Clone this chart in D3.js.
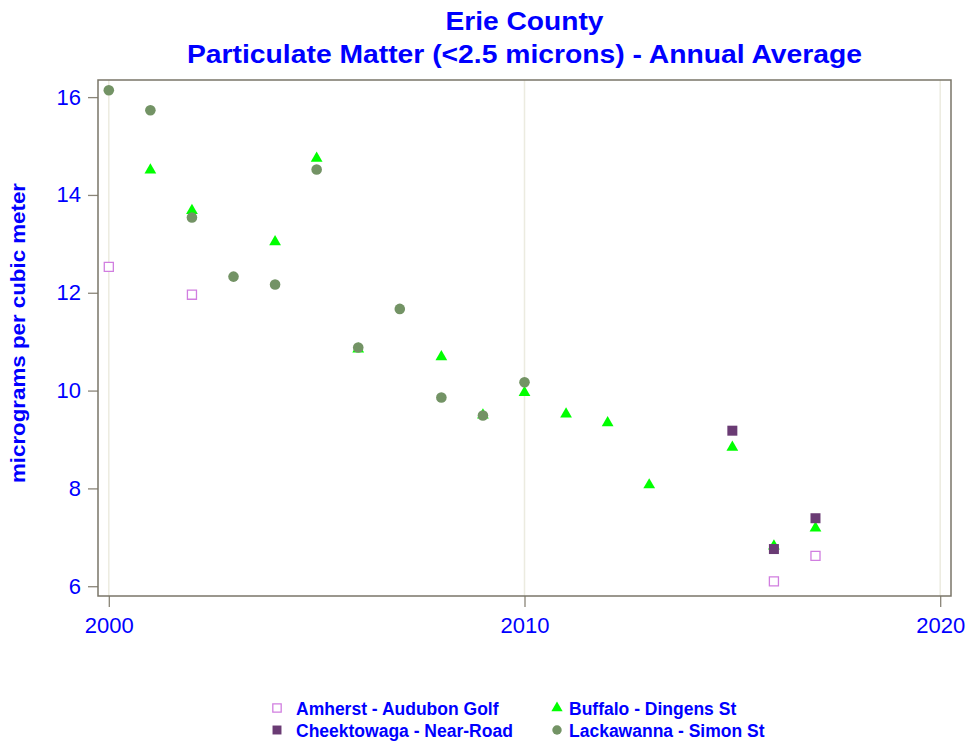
<!DOCTYPE html>
<html><head><meta charset="utf-8">
<script src="https://cdn.jsdelivr.net/npm/d3@7"></script>
<style>body{margin:0;background:#fff;} text{font-family:"Liberation Sans",Arial,sans-serif;}</style>
</head><body><svg id="c" width="970" height="745"></svg>
<script>
const titleLines = ["Erie County", "Particulate Matter (<2.5 microns) - Annual Average"];
const yLabel = "micrograms per cubic meter";
const xTicks = [2000, 2010, 2020];
const yTicks = [6, 8, 10, 12, 14, 16];

const amherstYears = [2000, 2002, 2016, 2017];
const amherstVals = [12.53, 11.96, 6.10, 6.62];
const buffaloYears = [2001, 2002, 2004, 2005, 2006, 2008, 2009, 2010, 2011, 2012, 2013, 2015, 2016, 2017];
const buffaloVals = [14.51, 13.68, 13.04, 14.75, 10.85, 10.69, 9.50, 9.96, 9.52, 9.34, 8.07, 8.84, 6.82, 7.19];
const cheekYears = [2015, 2016, 2017];
const cheekVals = [9.18, 6.76, 7.39];
const lackYears = [2000, 2001, 2002, 2003, 2004, 2005, 2006, 2007, 2008, 2009, 2010];
const lackVals = [16.14, 15.73, 13.54, 12.33, 12.17, 14.52, 10.88, 11.67, 9.86, 9.49, 10.17];

const seriesNames = ["Amherst - Audubon Golf", "Buffalo - Dingens St", "Cheektowaga - Near-Road", "Lackawanna - Simon St"];

const svg = d3.select("#c");
const L = 98, R = 951, T = 80, B = 596;
const x = d3.scaleLinear().domain([1999.74, 2020.26]).range([L, R]);
const y = d3.scaleLinear().domain([5.8, 16.35]).range([B, T]);
const blue = "#0000ff", frameCol = "#7a7568";

// gridlines
svg.append("g").selectAll("line").data(xTicks).join("line")
  .attr("x1", d => x(d)).attr("x2", d => x(d)).attr("y1", T).attr("y2", B)
  .attr("stroke", "#ecebe0").attr("stroke-width", 1.5);

// axes
const xAxis = svg.append("g").attr("transform", `translate(0,${B})`)
  .call(d3.axisBottom(x).tickValues(xTicks).tickFormat(d3.format("d")).tickSize(11).tickPadding(10));
const yAxis = svg.append("g").attr("transform", `translate(${L},0)`)
  .call(d3.axisLeft(y).tickValues(yTicks).tickSize(10).tickPadding(7));
[xAxis, yAxis].forEach(a => {
  a.select(".domain").remove();
  a.selectAll(".tick line").attr("stroke", "#8a8578").attr("stroke-width", 1.3);
  a.selectAll(".tick text").attr("fill", blue).attr("font-size", 22).attr("font-family", "Liberation Sans, Arial, sans-serif");
});

// frame
svg.append("rect").attr("x", L).attr("y", T).attr("width", R - L).attr("height", B - T)
  .attr("fill", "none").attr("stroke", frameCol).attr("stroke-width", 1.5);

// title
const titleWidths = [158, 675];
svg.append("g").selectAll("text").data(titleLines).join("text")
  .attr("x", (L + R) / 2).attr("y", (d, i) => 30 + i * 33)
  .attr("text-anchor", "middle").attr("fill", blue).attr("font-weight", "bold").attr("font-size", 26)
  .attr("textLength", (d, i) => titleWidths[i]).attr("lengthAdjust", "spacingAndGlyphs")
  .text(d => d);

// y label
svg.append("text").attr("transform", `translate(25,333) rotate(-90)`)
  .attr("text-anchor", "middle").attr("fill", blue).attr("font-weight", "bold").attr("font-size", 20)
  .attr("textLength", 300).attr("lengthAdjust", "spacingAndGlyphs")
  .text(yLabel);

const zip = (a, b) => a.map((v, i) => [v, b[i]]);
const sq = d3.symbol().type(d3.symbolSquare).size(100);
const sqOpen = d3.symbol().type(d3.symbolSquare).size(82);
const tri = d3.symbol().type(d3.symbolTriangle).size(60);
const circ = d3.symbol().type(d3.symbolCircle).size(88);

const styles = [
  {path: sqOpen(), fill: "#fff", stroke: "#d17ee0", sw: 1.3},
  {path: tri(), fill: "#00ff00", stroke: "none", sw: 0},
  {path: sq(), fill: "#6a3b74", stroke: "none", sw: 0},
  {path: circ(), fill: "#739365", stroke: "none", sw: 0}
];
const data = [zip(amherstYears, amherstVals), zip(buffaloYears, buffaloVals), zip(cheekYears, cheekVals), zip(lackYears, lackVals)];
[0, 1, 2, 3].forEach(k => {
  const s = styles[k];
  svg.append("g").selectAll("path").data(data[k]).join("path")
    .attr("d", s.path)
    .attr("transform", d => `translate(${x(d[0])},${y(d[1])})`)
    .attr("fill", s.fill).attr("stroke", s.stroke).attr("stroke-width", s.sw);
});

// legend
const legPos = [[277, 708], [557, 708], [277, 730], [557, 730]];
const legSym = [
  d3.symbol().type(d3.symbolSquare).size(70)(),
  d3.symbol().type(d3.symbolTriangle).size(55)(),
  d3.symbol().type(d3.symbolSquare).size(80)(),
  d3.symbol().type(d3.symbolCircle).size(70)()
];
const lg = svg.append("g");
seriesNames.forEach((n, i) => {
  const [lx, ly] = legPos[i];
  const s = styles[i];
  lg.append("path").attr("d", legSym[i]).attr("transform", `translate(${lx},${ly})`)
    .attr("fill", s.fill).attr("stroke", s.stroke).attr("stroke-width", s.sw);
  lg.append("text").attr("x", i % 2 === 0 ? lx + 19 : lx + 12).attr("y", ly + 7)
    .attr("fill", blue).attr("font-weight", "bold").attr("font-size", 17.5).text(n);
});
</script></body></html>
